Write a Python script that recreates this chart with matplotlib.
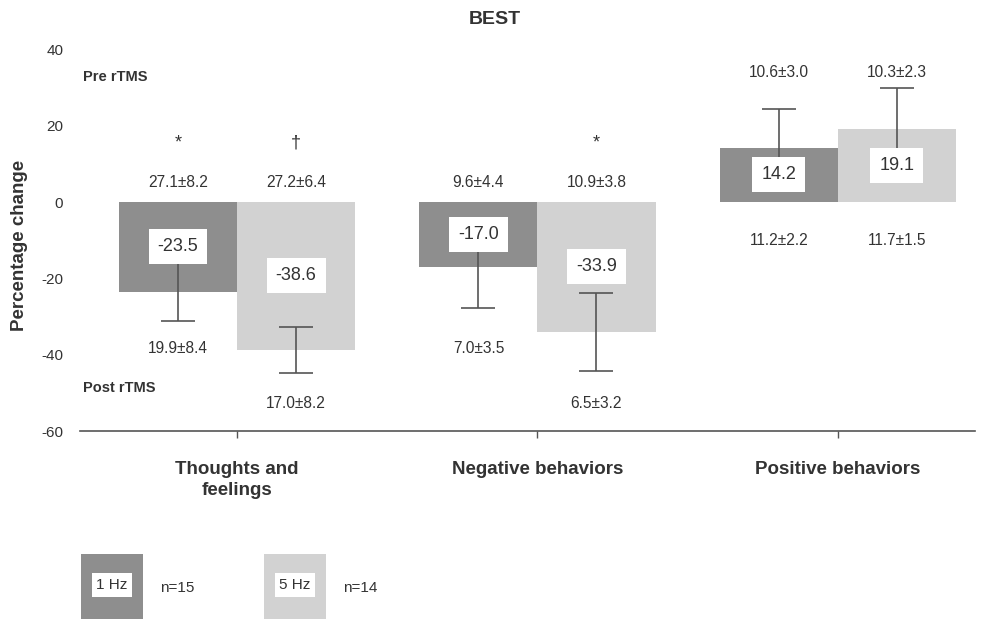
import numpy as np
import matplotlib
matplotlib.use("Agg")
import matplotlib.pyplot as plt
from matplotlib.patches import Rectangle

# -----------------------------
# 1. DATA
# -----------------------------
categories = ["Thoughts and\nfeelings", "Negative behaviors", "Positive behaviors"]
groups = ["1 Hz", "5 Hz"]
n_sizes = [15, 14]

change_1hz = [-23.5, -17.0, 14.2]
change_5hz = [-38.6, -33.9, 19.1]
err_1hz = [7.7, 10.7, 10.2]
err_5hz = [6.0, 10.2, 10.7]

pre_1hz = ["27.1±8.2", "9.6±4.4", "10.6±3.0"]
pre_5hz = ["27.2±6.4", "10.9±3.8", "10.3±2.3"]
post_1hz = ["19.9±8.4", "7.0±3.5", "11.2±2.2"]
post_5hz = ["17.0±8.2", "6.5±3.2", "11.7±1.5"]
sig_1hz = ["*", "", ""]
sig_5hz = ["†", "*", ""]

# -----------------------------
# 2. STYLE / LAYOUT
# -----------------------------
plt.rcParams["font.family"] = ["Liberation Sans", "DejaVu Sans"]
plt.rcParams["axes.unicode_minus"] = False
TXT = "#333333"
colors = ["#8e8e8e", "#d2d2d2"]
bar_w = 0.393

# y rows for the pre/post annotations (data units)
pre_row = [5.2, 5.2, 34.0]
post_row_1hz = [-38.2, -38.2, -10.0]
post_row_5hz = [-52.6, -52.6, -10.0]
sig_row = 15.5

fig = plt.figure(figsize=(9.94, 6.19), dpi=100)
ax = fig.add_axes([0.0805, 0.303, 0.9005, 0.630])

x = np.arange(len(categories))
series = [
    (change_1hz, err_1hz, pre_1hz, post_1hz, post_row_1hz, sig_1hz, -bar_w / 2),
    (change_5hz, err_5hz, pre_5hz, post_5hz, post_row_5hz, sig_5hz, bar_w / 2),
]

for (vals, errs, pre, post, post_row, sig, off), col in zip(series, colors):
    xs = x + off
    ax.bar(xs, vals, width=bar_w, color=col, zorder=2)
    ax.errorbar(xs, vals, yerr=errs, fmt="none", ecolor="#555555",
                elinewidth=1.2, capsize=12, capthick=1.2, zorder=3)
    for xi, v, p, q, qy, py, s in zip(xs, vals, pre, post, post_row, pre_row, sig):
        ax.text(xi, v / 2, f"{v:.1f}", ha="center", va="center", fontsize=13,
                color=TXT, zorder=5,
                bbox=dict(boxstyle="square,pad=0.5", fc="white", ec="none"))
        ax.text(xi, py, p, ha="center", va="center", fontsize=11.2, color=TXT)
        ax.text(xi, qy, q, ha="center", va="center", fontsize=11.2, color=TXT)
        if s:
            ax.text(xi, sig_row, s, ha="center", va="center", fontsize=13, color=TXT)

# pre / post row labels
yt = ax.get_yaxis_transform()
ax.text(0.003, 32.7, "Pre rTMS", transform=yt, ha="left", va="center",
        fontsize=10.5, fontweight="bold", color=TXT)
ax.text(0.003, -48.7, "Post rTMS", transform=yt, ha="left", va="center",
        fontsize=10.5, fontweight="bold", color=TXT)

# axes
ax.set_xlim(-0.523, 2.457)
ax.set_ylim(-60, 42)
ax.set_yticks([-60, -40, -20, 0, 20, 40])
ax.set_xticks(x)
ax.set_xticklabels(categories, fontsize=13.5, fontweight="bold", color=TXT,
                   linespacing=1.3)
ax.tick_params(axis="x", length=5, width=1, color="#555555", pad=16)
ax.tick_params(axis="y", length=0, pad=12, labelsize=11, labelcolor=TXT)
for side in ["top", "right", "left"]:
    ax.spines[side].set_visible(False)
ax.spines["bottom"].set_color("#555555")
ax.spines["bottom"].set_linewidth(1.2)

ax.set_ylabel("Percentage change", fontsize=13.5, fontweight="bold", color=TXT)
ax.yaxis.set_label_coords(-0.058, 0.478)

fig.text(0.498, 0.969, "BEST", ha="center", va="center", fontsize=14,
         fontweight="bold", color=TXT)

# -----------------------------
# 3. LEGEND (boxes at the bottom)
# -----------------------------
W, H = 994, 619
leg_left = [81, 264]
for left, col, g, n in zip(leg_left, colors, groups, n_sizes):
    fig.add_artist(Rectangle((left / W, 0), 62 / W, 65 / H, transform=fig.transFigure,
                             fc=col, ec="none"))
    fig.text((left + 31) / W, 1 - 585 / H, g, ha="center", va="center", fontsize=11,
             color=TXT, bbox=dict(boxstyle="square,pad=0.3", fc="white", ec="none"))
    fig.text((left + 79) / W, 1 - 588 / H, f"n={n}", ha="left", va="center",
             fontsize=11, color=TXT)

fig.savefig("out.png", dpi=100)
